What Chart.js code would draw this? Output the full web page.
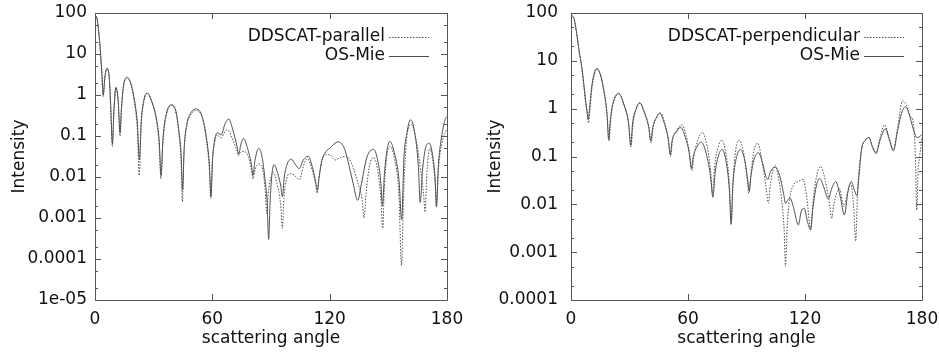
<!DOCTYPE html>
<html><head><meta charset="utf-8">
<script src="https://cdn.jsdelivr.net/npm/chart.js@4.4.1/dist/chart.umd.min.js"></script>
<style>
html,body{margin:0;padding:0;background:#fff;}
#wrap{position:relative;width:939px;height:352px;overflow:hidden;background:#fff;}
canvas{position:absolute;top:0;}
</style></head><body>
<div id="wrap">
<canvas id="left" width="470" height="352" style="left:0"></canvas>
<canvas id="right" width="469" height="352" style="left:470px"></canvas>
</div>
<script>
// ---------- axis ticks ----------
const xTicks = [0, 60, 120, 180];
const xTickLabels = ['0', '60', '120', '180'];
const leftYTicks = [1e-5, 1e-4, 1e-3, 1e-2, 1e-1, 1, 10, 100];
const leftYTickLabels = ['1e-05', '0.0001', '0.001', '0.01', '0.1', '1', '10', '100'];
const rightYTicks = [1e-4, 1e-3, 1e-2, 1e-1, 1, 10, 100];
const rightYTickLabels = ['0.0001', '0.001', '0.01', '0.1', '1', '10', '100'];
const minorFactors = [2, 5];

// ---------- left panel: parallel ----------
const parAngles = [0,1,2,2.7,3.5,4.2,5.0,6.1,7.2,8.0,8.9,9.7,10.7,11.9,12.8,13.5,14.5,16.4,18.5,20.5,21.7,22.6,23.5,25.0,26.8,29.0,31.5,32.8,33.7,34.6,36.5,39.0,41.5,43.2,44.0,44.7,45.4,47.0,48.5,51.5,55.0,57.5,58.5,59.2,60.0,61.2,62.4,64.5,66.5,67.8,70.0,72.5,73.3,74.5,76.5,78.5,80.0,80.8,81.8,84.0,85.8,87.0,87.8,88.6,90.0,91.3,93.0,95.0,95.8,96.6,98.0,99.8,102.0,104.5,106.5,108.5,111.0,113.0,113.6,114.5,116.0,118.0,120.0,122.8,125.5,128.7,131.5,134.5,136.5,137.6,138.6,140.5,142.5,144.5,146.2,147.1,148.0,149.5,151.0,153.0,155.5,156.7,157.9,159.5,161.8,164.0,166.5,168.0,168.8,169.7,171.2,173.0,174.0,174.6,175.6,177.5,180.0];
const parValues = [88,72,30,12,3.2,0.9,2.5,4.3,2.9,0.5,0.055,0.4,1.5,0.6,0.1,0.42,1.55,2.6,1.7,0.5,0.13,0.011,0.15,0.7,1.12,0.68,0.22,0.06,0.009,0.06,0.32,0.55,0.35,0.08,0.025,0.0025,0.03,0.18,0.3,0.42,0.26,0.05,0.015,0.003,0.025,0.07,0.105,0.09,0.13,0.14,0.09,0.045,0.033,0.04,0.042,0.03,0.015,0.009,0.015,0.021,0.015,0.005,0.0013,0.004,0.01,0.013,0.007,0.002,0.00056,0.003,0.009,0.012,0.011,0.0085,0.018,0.028,0.015,0.006,0.004,0.009,0.025,0.035,0.035,0.026,0.03,0.032,0.02,0.007,0.003,0.001,0.004,0.02,0.03,0.015,0.003,0.00056,0.006,0.04,0.055,0.03,0.003,0.00007,0.005,0.1,0.19,0.09,0.015,0.004,0.0014,0.012,0.05,0.02,0.006,0.0019,0.015,0.07,0.15];
const mieParAngles = [0,1,2,2.7,3.5,4.2,5.0,6.1,7.2,8.0,8.9,9.7,10.7,11.9,12.8,13.5,14.5,16.4,18.5,20.5,21.7,22.7,23.7,25.0,26.6,29.0,31.5,32.8,33.8,34.8,36.5,39.0,41.5,43.2,44.0,44.8,45.6,47.0,48.5,51.5,55.0,57.5,58.5,59.3,60.2,61.2,62.4,64.5,66.5,68.4,70.5,72.5,73.5,74.5,76.0,78.0,80.0,80.8,81.8,83.7,85.5,87.0,88.0,88.8,89.6,91.5,93.5,95.0,95.8,96.8,98.5,100.5,102.5,104.4,106.5,109.0,111.5,113.0,113.7,114.6,116.0,117.5,120.0,124.3,127.5,130.0,132.0,134.3,136.5,139.0,142.5,145.0,146.2,147.0,148.0,149.5,150.8,153.0,155.5,156.8,158.0,159.5,161.4,163.5,165.3,166.3,167.5,169.0,170.9,172.8,174.0,174.6,175.6,177.0,179.0,180.0];
const mieParValues = [90,75,32,13,3.5,1.0,2.6,4.5,3.0,0.6,0.066,0.45,1.55,0.7,0.12,0.45,1.6,2.7,1.8,0.6,0.2,0.026,0.25,0.75,1.1,0.7,0.25,0.08,0.011,0.09,0.35,0.58,0.38,0.1,0.04,0.0048,0.05,0.2,0.33,0.46,0.28,0.06,0.02,0.0033,0.03,0.08,0.12,0.107,0.2,0.26,0.14,0.06,0.036,0.06,0.087,0.05,0.02,0.011,0.025,0.05,0.03,0.008,0.0025,0.0003,0.003,0.02,0.012,0.006,0.0033,0.01,0.022,0.027,0.02,0.016,0.026,0.032,0.015,0.007,0.0047,0.01,0.025,0.038,0.05,0.072,0.05,0.018,0.007,0.0027,0.008,0.03,0.047,0.02,0.007,0.002,0.012,0.05,0.074,0.04,0.008,0.0009,0.03,0.12,0.25,0.12,0.02,0.0024,0.015,0.05,0.067,0.03,0.008,0.0019,0.02,0.08,0.25,0.3];

// ---------- right panel: perpendicular ----------
const perpAngles = [0,1.5,2.9,4.2,5.5,6.5,7.4,8.3,9.0,9.7,10.7,12.0,13.5,15.2,17.0,18.6,19.5,20.4,21.7,24.6,27.2,29.7,30.8,31.8,33.4,35.4,37.7,40.0,41.1,42.1,43.7,45.8,48.0,50.0,51.1,52.1,54.3,56.8,59.0,61.0,62.0,63.0,65.0,67.4,69.8,71.6,72.6,73.6,75.3,77.3,79.5,81.3,82.2,83.1,84.5,86.3,88.5,90.3,91.2,92.2,93.8,95.6,97.8,100.2,101.2,102.2,104.6,106.5,108.5,109.3,110.0,110.8,112.0,114.0,116.5,119.1,121.0,122.9,124.0,126.0,128.0,130.5,132.8,133.7,134.8,137.6,140.0,141.8,143.5,145.0,146.0,147.0,149.0,151.0,152.8,154.5,156.4,158.5,160.8,163.2,165.3,167.5,170.0,172.0,174.0,175.6,176.6,177.3,178.0,178.8,180.0];
const perpValues = [88,76,37,15,7.3,3.2,1.4,0.8,0.5,0.9,2.6,5.2,6.7,5.0,2.3,0.7,0.21,0.6,1.3,2.0,1.25,0.45,0.16,0.48,0.95,1.3,0.85,0.4,0.19,0.4,0.62,0.82,0.52,0.22,0.1,0.23,0.36,0.46,0.28,0.1,0.05,0.1,0.22,0.32,0.16,0.05,0.017,0.06,0.15,0.22,0.11,0.025,0.0045,0.03,0.14,0.22,0.12,0.035,0.017,0.04,0.13,0.19,0.09,0.02,0.0105,0.025,0.065,0.035,0.008,0.003,0.0005,0.003,0.012,0.025,0.03,0.033,0.013,0.003,0.01,0.04,0.062,0.03,0.009,0.005,0.01,0.021,0.009,0.018,0.027,0.008,0.0017,0.02,0.14,0.22,0.25,0.17,0.12,0.25,0.46,0.25,0.14,0.4,1.45,1.2,0.7,0.49,0.1,0.0076,0.05,0.1,0.25];
const miePerpAngles = [0,1.5,2.9,4.2,5.5,6.5,7.4,8.2,8.8,9.5,10.5,11.8,13.3,15.0,16.8,18.4,19.3,20.2,21.5,24.4,27.0,29.5,30.6,31.6,33.2,35.2,37.5,39.8,40.9,41.9,43.5,45.5,47.8,49.8,50.9,51.9,54.0,56.2,58.5,60.6,61.7,62.7,64.6,66.8,69.0,71.5,72.8,73.9,75.5,77.4,79.5,81.2,82.1,83.0,85.0,87.0,89.2,90.5,91.4,92.3,94.0,96.2,98.3,100.0,101.0,102.0,104.7,107.0,109.0,110.0,111.0,112.3,114.0,116.6,118.0,119.5,121.5,122.9,124.0,125.8,127.5,129.8,131.9,133.8,135.8,138.0,140.2,142.0,143.7,145.3,146.6,147.7,149.0,151.0,152.8,154.5,156.4,158.5,161.2,163.3,165.3,167.5,169.5,171.5,173.5,175.5,177.3,178.8,180.0];
const miePerpValues = [91,78,38,16,7.6,3.5,1.6,0.9,0.6,1.0,2.6,5.3,6.9,5.2,2.4,0.8,0.23,0.6,1.3,2.1,1.25,0.5,0.17,0.5,0.95,1.33,0.85,0.42,0.21,0.4,0.62,0.8,0.5,0.24,0.11,0.22,0.32,0.41,0.26,0.12,0.056,0.1,0.16,0.2,0.13,0.04,0.014,0.045,0.1,0.14,0.08,0.02,0.0038,0.025,0.1,0.14,0.08,0.035,0.019,0.04,0.09,0.12,0.07,0.038,0.033,0.045,0.06,0.04,0.017,0.0105,0.012,0.0135,0.009,0.0037,0.007,0.0083,0.004,0.0029,0.008,0.024,0.035,0.022,0.013,0.022,0.03,0.015,0.006,0.018,0.03,0.02,0.015,0.04,0.14,0.22,0.25,0.16,0.115,0.22,0.38,0.22,0.13,0.35,0.8,1.1,0.75,0.38,0.25,0.26,0.29];

// ---------- styling ----------
const FONT_FAMILY = "'DejaVu Sans', 'Liberation Sans', sans-serif";
const FONT_SIZE = 17;
const TEXT_COLOR = '#111';
const LINE_COLOR = '#505050';
const FRAME_COLOR = '#555';

function toXY(a, v) { return a.map((x, i) => ({ x: x, y: v[i] })); }

const frameTicksPlugin = {
  id: 'frameTicks',
  afterDatasetsDraw(chart) {
    const { ctx, chartArea: ca } = chart;
    const xs = chart.scales.x, ys = chart.scales.y;
    ctx.save();
    ctx.strokeStyle = FRAME_COLOR;
    ctx.lineWidth = 1;
    ctx.beginPath();
    ctx.rect(Math.round(ca.left) + 0.5, Math.round(ca.top) + 0.5, Math.round(ca.right - ca.left), Math.round(ca.bottom - ca.top));
    ctx.stroke();
    const major = 6, minor = 3;
    ctx.beginPath();
    xTicks.forEach(v => {
      const p = Math.round(xs.getPixelForValue(v)) + 0.5;
      ctx.moveTo(p, ca.bottom); ctx.lineTo(p, ca.bottom - major);
      ctx.moveTo(p, ca.top); ctx.lineTo(p, ca.top + major);
    });
    const yt = chart.options.plugins.frameTicks.ticks;
    yt.forEach((v, i) => {
      const p = Math.round(ys.getPixelForValue(v)) + 0.5;
      ctx.moveTo(ca.left, p); ctx.lineTo(ca.left + major, p);
      ctx.moveTo(ca.right, p); ctx.lineTo(ca.right - major, p);
      if (i < yt.length - 1) {
        minorFactors.forEach(f => {
          const q = Math.round(ys.getPixelForValue(v * f)) + 0.5;
          ctx.moveTo(ca.left, q); ctx.lineTo(ca.left + minor, q);
          ctx.moveTo(ca.right, q); ctx.lineTo(ca.right - minor, q);
        });
      }
    });
    ctx.stroke();
    ctx.restore();
  }
};

const keyPlugin = {
  id: 'keyBox',
  afterDraw(chart) {
    const { ctx, chartArea: ca } = chart;
    const rows = [24, 43];
    ctx.save();
    ctx.font = FONT_SIZE + 'px ' + FONT_FAMILY;
    ctx.textAlign = 'right';
    ctx.textBaseline = 'middle';
    chart.data.datasets.forEach((ds, i) => {
      const y = ca.top + rows[i];
      ctx.fillStyle = TEXT_COLOR;
      ctx.fillText(ds.label, ca.right - 62, y);
      ctx.strokeStyle = LINE_COLOR;
      ctx.lineWidth = 1;
      ctx.setLineDash(ds.borderDash || []);
      ctx.beginPath();
      ctx.moveTo(ca.right - 58, Math.round(y) + 0.5);
      ctx.lineTo(ca.right - 18, Math.round(y) + 0.5);
      ctx.stroke();
    });
    ctx.restore();
  }
};

function makeChart(id, cfg) {
  const font = { family: FONT_FAMILY, size: FONT_SIZE };
  return new Chart(document.getElementById(id), {
    type: 'line',
    data: {
      datasets: [
        { label: cfg.ddLabel, data: toXY(cfg.ddA, cfg.ddV), borderColor: LINE_COLOR, borderWidth: 1, borderDash: [1.5, 1.5], pointRadius: 0, cubicInterpolationMode: 'monotone', fill: false },
        { label: 'OS-Mie', data: toXY(cfg.mieA, cfg.mieV), borderColor: LINE_COLOR, borderWidth: 1, pointRadius: 0, cubicInterpolationMode: 'monotone', fill: false }
      ]
    },
    options: {
      responsive: false, animation: false, devicePixelRatio: 1,
      layout: { padding: { left: 0, right: cfg.padRight, top: 13, bottom: 0 } },
      plugins: { legend: { display: false }, tooltip: { enabled: false }, frameTicks: { ticks: cfg.yTicks } },
      scales: {
        x: {
          type: 'linear', min: 0, max: 180,
          afterFit: s => { s.height = 52; s.paddingLeft = 0; s.paddingRight = 0; },
          afterBuildTicks: s => { s.ticks = xTicks.map(v => ({ value: v })); },
          ticks: { callback: (v, i) => xTickLabels[i], font: font, color: TEXT_COLOR, padding: 9, maxRotation: 0, autoSkip: false },
          grid: { display: false, drawTicks: false },
          border: { display: false },
          title: { display: true, text: 'scattering angle', font: font, color: TEXT_COLOR, padding: { top: 0, bottom: 3 } }
        },
        y: {
          type: 'logarithmic', min: cfg.yTicks[0], max: 100,
          afterFit: s => { s.width = cfg.yWidth; s.paddingTop = 0; s.paddingBottom = 0; },
          afterBuildTicks: s => { s.ticks = cfg.yTicks.map(v => ({ value: v })); },
          ticks: { callback: (v, i) => cfg.yLabels[i], font: font, color: TEXT_COLOR, padding: cfg.yPad, autoSkip: false },
          grid: { display: false, drawTicks: false },
          border: { display: false },
          title: { display: true, text: 'Intensity', font: font, color: TEXT_COLOR, padding: { top: cfg.titlePad, bottom: 0 } }
        }
      }
    },
    plugins: [frameTicksPlugin, keyPlugin]
  });
}

makeChart('left', { ddLabel: 'DDSCAT-parallel', ddA: parAngles, ddV: parValues, mieA: mieParAngles, mieV: mieParValues,
  yTicks: leftYTicks, yLabels: leftYTickLabels, padRight: 23, yWidth: 95, yPad: 8, titlePad: 9 });
makeChart('right', { ddLabel: 'DDSCAT-perpendicular', ddA: perpAngles, ddV: perpValues, mieA: miePerpAngles, mieV: miePerpValues,
  yTicks: rightYTicks, yLabels: rightYTickLabels, padRight: 17, yWidth: 101, yPad: 13, titlePad: 15 });
</script>
</body></html>
